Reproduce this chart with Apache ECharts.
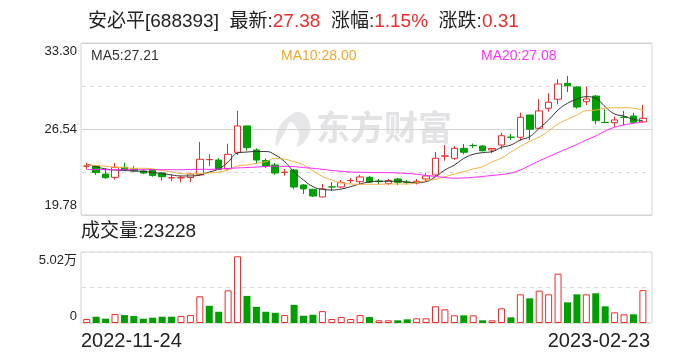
<!DOCTYPE html>
<html><head><meta charset="utf-8">
<script src="https://cdn.jsdelivr.net/npm/echarts@6/dist/echarts.min.js"></script>
<style>html,body{margin:0;padding:0;background:#fff}#c{width:688px;height:360px}</style>
</head><body><div id="c"></div>
<script>
const stockName = '安必平', stockCode = '688393';
const lastPrice = '27.38', changePct = '1.15%', changeAmt = '0.31';
const dates = ['2022-11-24','2022-11-25','2022-11-28','2022-11-29','2022-11-30','2022-12-01','2022-12-02','2022-12-05','2022-12-06','2022-12-07',
'2022-12-08','2022-12-09','2022-12-12','2022-12-13','2022-12-14','2022-12-15','2022-12-16','2022-12-19','2022-12-20','2022-12-21',
'2022-12-22','2022-12-23','2022-12-26','2022-12-27','2022-12-28','2022-12-29','2022-12-30','2023-01-03','2023-01-04','2023-01-05',
'2023-01-06','2023-01-09','2023-01-10','2023-01-11','2023-01-12','2023-01-13','2023-01-16','2023-01-17','2023-01-18','2023-01-19',
'2023-01-20','2023-01-30','2023-01-31','2023-02-01','2023-02-02','2023-02-03','2023-02-06','2023-02-07','2023-02-08','2023-02-09',
'2023-02-10','2023-02-13','2023-02-14','2023-02-15','2023-02-16','2023-02-17','2023-02-20','2023-02-21','2023-02-22','2023-02-23'];
// [open, close, low, high]
const ohlc = [
[23.62,23.63,23.40,23.87],[23.63,23.11,22.95,23.69],[23.00,22.71,22.63,23.45],[22.74,23.53,22.56,23.87],[23.53,23.32,23.24,23.89],
[23.40,23.24,23.16,23.63],[23.24,23.08,23.00,23.36],[23.36,22.89,22.79,23.40],[23.08,22.79,22.48,23.16],[22.70,22.71,22.43,22.95],
[22.70,22.71,22.35,22.85],[22.73,23.00,22.37,23.08],[22.93,24.16,22.85,25.52],[24.13,24.14,23.63,24.55],[24.10,23.37,23.32,24.26],
[23.40,24.55,23.32,25.39],[24.71,26.78,24.50,27.96],[26.78,25.09,24.84,26.78],[24.89,24.10,23.83,25.02],[24.06,23.63,23.47,24.22],
[23.71,23.08,22.93,23.87],[23.13,23.14,22.87,23.40],[23.32,21.98,21.80,23.40],[22.14,21.83,21.43,22.22],[21.80,21.27,21.20,21.83],
[21.20,21.83,21.17,22.22],[21.99,21.98,21.67,22.37],[21.98,22.32,21.90,22.53],[22.48,22.49,22.30,22.69],[22.40,22.77,22.22,22.93],
[22.74,22.37,22.30,22.85],[22.44,22.43,22.22,22.61],[22.26,22.49,22.14,22.61],[22.61,22.35,22.14,22.69],[22.35,22.34,22.18,22.53],
[22.30,22.43,22.18,22.61],[22.61,22.85,22.45,23.06],[22.93,24.24,22.85,24.73],[24.41,24.42,24.05,25.28],[24.24,25.02,24.10,25.20],
[25.02,24.71,24.55,25.36],[25.24,25.23,25.05,25.40],[25.20,24.83,24.77,25.28],[24.89,25.01,24.63,25.05],[25.28,26.01,24.94,26.25],
[25.90,25.89,25.68,26.15],[25.89,27.46,25.62,27.82],[27.64,26.52,25.68,27.64],[26.60,27.96,26.54,28.87],[28.17,28.64,27.90,29.35],
[28.88,30.08,28.48,30.45],[30.13,29.94,29.45,30.71],[29.84,28.27,28.14,29.92],[28.69,28.90,28.43,29.87],[29.13,27.19,26.92,29.21],
[27.05,27.04,27.01,28.09],[27.04,27.25,26.70,27.51],[27.47,27.46,26.86,27.96],[27.56,27.07,26.99,27.82],[27.10,27.38,27.04,28.43]];
const volumes = [2800,4440,3040,6300,5600,4900,3040,3740,4440,4440,
4900,5600,18900,12140,7940,23100,47170,19150,11440,7940,
7240,5600,12840,5140,5840,8400,2800,4200,2800,5600,
4200,1900,1900,1900,2600,3300,3300,11800,9660,5420,
5420,5420,1900,1900,10370,4000,20270,17440,22860,20270,
34880,14610,20270,20270,20980,11790,7540,6130,6130,23228];
const ma5 = [23.79,23.58,23.40,23.32,23.28,23.24,23.20,23.12,23.04,22.93,
22.85,22.85,22.93,23.16,23.40,23.95,24.65,24.73,24.77,24.77,
24.50,23.97,23.16,22.53,22.01,21.80,21.75,21.82,22.01,22.22,
22.37,22.43,22.43,22.43,22.37,22.32,22.40,22.79,23.32,23.71,
24.22,24.55,24.68,24.76,25.10,25.28,25.68,25.94,26.60,27.25,
28.03,28.56,28.88,29.08,28.95,28.29,27.72,27.56,27.30,27.21];
const ma10 = [23.71,23.67,23.61,23.55,23.50,23.45,23.45,23.40,23.28,23.16,
23.04,23.00,23.04,23.08,23.16,23.32,23.63,23.71,23.84,23.97,
24.22,24.16,23.97,23.71,23.26,22.81,22.53,22.32,22.22,22.19,
22.19,22.19,22.22,22.22,22.22,22.32,22.48,22.59,22.79,23.00,
23.18,23.40,23.58,23.95,24.26,24.73,25.17,25.56,25.91,26.38,
26.93,27.30,27.64,27.98,28.03,28.17,28.21,28.21,28.17,28.00];
const ma20 = [23.36,23.36,23.34,23.34,23.34,23.34,23.34,23.34,23.34,23.34,
23.34,23.36,23.37,23.37,23.40,23.44,23.48,23.51,23.55,23.59,
23.61,23.61,23.58,23.51,23.45,23.37,23.28,23.22,23.16,23.14,
23.12,23.11,23.11,23.08,23.04,22.98,22.89,22.81,22.73,22.67,
22.69,22.74,22.81,22.89,22.96,23.08,23.32,23.67,24.03,24.36,
24.69,25.01,25.32,25.68,25.99,26.38,26.67,26.86,26.99,27.08];
const priceTicks = [19.78, 26.54, 33.30];
const volTicks = [0, 50200];

const RED = '#f02a2a', GREEN = '#009f00', TXT = '#222';
const FONT = "'Liberation Sans','Noto Sans CJK SC',sans-serif";
const FRAME = '#d4d4d4', DASH = '#dadada';

const chart = echarts.init(document.getElementById('c'), null, {renderer: 'canvas'});
const n = dates.length;
const volData = volumes.map((v, i) => {
  const up = i === 0 ? true : ohlc[i][1] >= ohlc[i-1][1];
  return {value: v, itemStyle: up ? {color: '#fff', borderColor: RED, borderWidth: 1} : {color: GREEN, borderColor: GREEN, borderWidth: 0}};
});

function priceLabel(v) {
  const s = v.toFixed(2);
  if (v >= priceTicks[2] - 1e-6) return '{gap| }\n{t|' + s + '}';
  if (v <= priceTicks[0] + 1e-6) return '{t|' + s + '}\n{gapB| }';
  return '{t|' + s + '}';
}
function volLabel(v) {
  if (v >= volTicks[1] - 1e-6) return '{gap| }\n{t|' + (v / 10000).toFixed(2) + '万}';
  return '{t|' + v + '}\n{gapB| }';
}

const option = {
  animation: false,
  backgroundColor: '#fff',
  grid: [
    {left: 82, top: 43, width: 565.6, height: 172, show: false},
    {left: 82, top: 252, width: 565.6, height: 71, show: false},
    {left: 81, top: 43, width: 571, height: 172, show: true, borderColor: FRAME, borderWidth: 1},
    {left: 81, top: 252, width: 571, height: 71, show: true, borderColor: FRAME, borderWidth: 1}
  ],
  xAxis: [
    {type: 'category', gridIndex: 0, data: dates, boundaryGap: true, show: false},
    {type: 'category', gridIndex: 1, data: dates, boundaryGap: true, show: false},
    {type: 'value', gridIndex: 2, show: false, min: 0, max: 1},
    {type: 'value', gridIndex: 3, show: false, min: 0, max: 1}
  ],
  yAxis: [
    {type: 'value', gridIndex: 0, min: priceTicks[0], max: priceTicks[2], interval: (priceTicks[1] - priceTicks[0]) / 2,
     axisLine: {show: false}, axisTick: {show: false}, axisLabel: {show: false},
     splitLine: {show: true, lineStyle: {color: DASH, type: [4, 4], width: 1}}},
    {type: 'value', gridIndex: 1, min: volTicks[0], max: volTicks[1], interval: volTicks[1] / 2,
     axisLine: {show: false}, axisTick: {show: false}, axisLabel: {show: false},
     splitLine: {show: true, lineStyle: {color: DASH, type: [4, 4], width: 1}}},
    {type: 'value', gridIndex: 2, min: priceTicks[0], max: priceTicks[2], interval: priceTicks[1] - priceTicks[0],
     axisLine: {show: false}, axisTick: {show: false},
     splitLine: {show: true, lineStyle: {color: FRAME, width: 1}},
     axisLabel: {margin: 4, formatter: priceLabel, fontFamily: FONT,
       rich: {t: {fontSize: 13, color: TXT, lineHeight: 15, fontFamily: FONT}, gap: {fontSize: 1, lineHeight: 17}, gapB: {fontSize: 1, lineHeight: 20}}}},
    {type: 'value', gridIndex: 3, min: volTicks[0], max: volTicks[1], interval: volTicks[1],
     axisLine: {show: false}, axisTick: {show: false}, splitLine: {show: false},
     axisLabel: {margin: 4, formatter: volLabel, fontFamily: FONT,
       rich: {t: {fontSize: 13, color: TXT, lineHeight: 15, fontFamily: FONT}, gap: {fontSize: 1, lineHeight: 16}, gapB: {fontSize: 1, lineHeight: 13}}}}
  ],
  graphic: [
    {type: 'polygon', z: 0, silent: true,
     shape: {points: [[300,112],[310,124],[307,138],[297,147],[299,134],[291,122],[284,134],[276,146],[278,130],[287,118]], smooth: 0.4},
     style: {fill: '#e6e6e9'}},
    {type: 'text', z: 0, silent: true, x: 316, y: 127,
     style: {text: '东方财富', font: "bold 34px 'Noto Sans CJK SC'", fill: '#e3e3e6', verticalAlign: 'middle'}},
    {type: 'text', x: 88, y: 22, z: 10,
     style: {text: '{k|' + stockName + '[' + stockCode + ']}  {k|最新:}{v|' + lastPrice + '}  {k|涨幅:}{v|' + changePct + '}  {k|涨跌:}{v|' + changeAmt + '}',
       fontSize: 19, fontFamily: FONT, verticalAlign: 'middle',
       rich: {k: {fontSize: 19, fontFamily: FONT, fill: TXT}, v: {fontSize: 19, fontFamily: FONT, fill: RED}}}},
    {type: 'text', x: 91, y: 56, z: 10,
     style: {text: 'MA5:' + ma5[n-1].toFixed(2), font: '14px ' + FONT, fill: '#333', verticalAlign: 'middle'}},
    {type: 'text', x: 281, y: 56, z: 10,
     style: {text: 'MA10:' + ma10[n-1].toFixed(2), font: '14px ' + FONT, fill: '#f0a830', verticalAlign: 'middle'}},
    {type: 'text', x: 481, y: 56, z: 10,
     style: {text: 'MA20:' + ma20[n-1].toFixed(2), font: '14px ' + FONT, fill: '#ff33ff', verticalAlign: 'middle'}},
    {type: 'text', x: 81, y: 232, z: 10,
     style: {text: '成交量:' + volumes[n-1], font: '19px ' + FONT, fill: TXT, verticalAlign: 'middle'}},
    {type: 'text', x: 81, y: 341, z: 10,
     style: {text: dates[0], font: '20px ' + FONT, fill: TXT, verticalAlign: 'middle'}},
    {type: 'text', x: 650, y: 341, z: 10,
     style: {text: dates[n-1], font: '20px ' + FONT, fill: TXT, verticalAlign: 'middle', align: 'right'}}
  ],
  series: [
    {type: 'candlestick', xAxisIndex: 0, yAxisIndex: 0, data: ohlc, barWidth: 7,
     itemStyle: {color: '#fff', color0: GREEN, borderColor: RED, borderColor0: GREEN, borderWidth: 1}},
    {type: 'line', xAxisIndex: 0, yAxisIndex: 0, data: ma5, smooth: true, symbol: 'none', lineStyle: {color: '#333', width: 1}},
    {type: 'line', xAxisIndex: 0, yAxisIndex: 0, data: ma10, smooth: true, symbol: 'none', lineStyle: {color: '#f5b041', width: 1}},
    {type: 'line', xAxisIndex: 0, yAxisIndex: 0, data: ma20, smooth: true, symbol: 'none', lineStyle: {color: '#ff22ff', width: 1}},
    {type: 'bar', xAxisIndex: 1, yAxisIndex: 1, data: volData, barWidth: 7}
  ]
};
chart.setOption(option);
</script></body></html>
